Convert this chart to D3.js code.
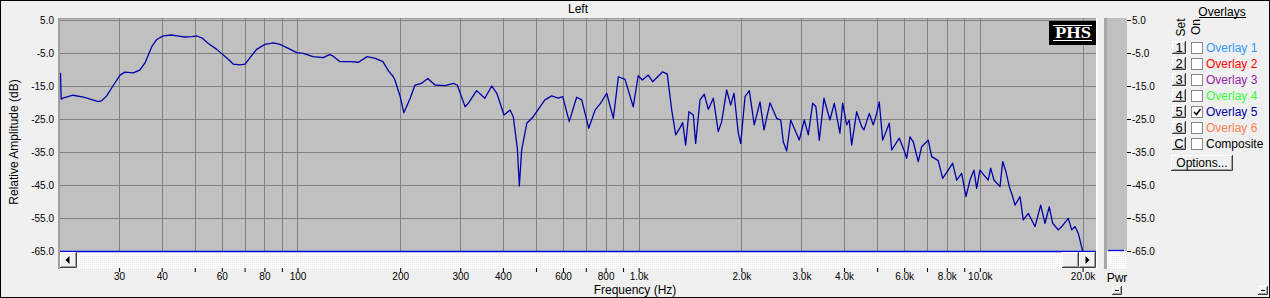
<!DOCTYPE html>
<html>
<head>
<meta charset="utf-8">
<script src="https://cdn.jsdelivr.net/npm/d3@7"></script>
<style>
  body { margin: 0; background: #f0f0f0; }
  svg { display: block; font-family: "Liberation Sans", Arial, sans-serif; font-size: 12px; }
</style>
</head>
<body>
<svg id="chart" width="1270" height="298"></svg>
<script>
// response curve (Hz / dB)
const freqHz = [20.2, 20.3, 20.5, 22.0, 23.6, 24.7, 26.1, 26.7, 27.6, 28.9, 30.2, 31.2, 33.0, 34.5, 35.7, 37.4, 38.7,
  40.4, 42.8, 44.3, 46.8, 49.0, 50.7, 52.4, 54.8, 58.0, 60.6, 62.7, 64.9, 67.9, 70.2, 72.6, 75.9, 80.3, 85.0, 88.9,
  94.0, 99.5, 104, 111, 119, 124, 127, 133, 143, 151, 160, 169, 178, 185, 191, 193, 200, 205, 214, 221, 231, 241,
  253, 271, 286, 294, 310, 317, 335, 354, 371, 384, 403, 420, 429, 441, 447, 454, 470, 491, 531, 556, 581, 599,
  626, 658, 681, 714, 745, 774, 806, 843, 872, 912, 964, 997, 1025, 1067, 1099, 1176, 1213, 1250, 1284, 1321,
  1346, 1373, 1404, 1446, 1469, 1513, 1557, 1600, 1655, 1711, 1751, 1811, 1861, 1903, 1959, 1991, 2050, 2110,
  2182, 2268, 2330, 2426, 2538, 2608, 2654, 2716, 2790, 2872, 2956, 3058, 3142, 3236, 3308, 3384, 3492, 3636,
  3744, 3890, 3962, 4070, 4142, 4210, 4354, 4504, 4574, 4742, 4872, 4984, 5072, 5190, 5428, 5516, 5806, 5994,
  6104, 6240, 6380, 6600, 6752, 7060, 7224, 7552, 7780, 8080, 8324, 8552, 8846, 9108, 9354, 9610, 9786, 10006,
  10280, 10584, 10756, 11000, 11456, 11666, 11930, 12200, 12480, 12678, 13112, 13408, 13868, 14510, 15078,
  15522, 15978, 16350, 16980, 17376, 18166, 18590, 19006, 19426, 20014];
const levelDb = [-11, -19, -18.7, -17.8, -18.4, -19.0, -19.7, -19.4, -18.0, -14.7, -11.7, -10.8, -11.0, -10.2, -8.1, -3.1, -0.9,
  0.2, 0.45, 0.2, -0.15, -0.05, 0.15, -0.4, -2.1, -3.9, -5.6, -6.9, -8.4, -8.6, -8.4, -6.4, -3.9, -2.4, -1.9, -2.4,
  -3.6, -4.9, -5.1, -6.1, -6.4, -5.5, -5.9, -7.6, -7.6, -7.8, -6.1, -6.6, -7.6, -10.5, -12.2, -13.2, -18.2, -23.1, -18.7, -14.7, -14.2, -12.7,
  -14.7, -14.9, -14.2, -14.7, -21.3, -20.2, -16.4, -18.7, -15.0, -17.2, -23.8, -22.3, -24.3, -33.9, -45.3, -34.4, -26.3, -24.3, -19.2, -18.0, -18.7, -18.2,
  -25.8, -18.4, -19.2, -27.8, -22.3, -20.2, -17.2, -24.8, -12.2, -13.0, -21.3, -11.9, -13.2, -11.7, -13.7, -10.7, -11.4, -22.3, -29.8, -27.7,
  -26.1, -32.9, -22.8, -23.8, -32.4, -19.2, -17.5, -22.1, -18.7, -28.8, -25.8, -16.2, -20.8, -17.2, -29.3, -32.4, -18.2, -16.4,
  -26.8, -19.8, -28.3, -20.1, -24.8, -25.3, -31.9, -34.7, -25.3, -28.3, -31.4, -25.3, -29.8, -20.2, -21.3, -31.4, -18.7, -25.3,
  -20.2, -29.3, -20.2, -26.8, -25.3, -32.9, -22.8, -27.3, -28.3, -23.3, -26.8, -23.3, -19.8, -31.4, -26.3, -34.4, -30.8, -34.4,
  -36.9, -30.4, -31.9, -37.9, -33.4, -31.4, -36.4, -37.6, -43.0, -40.5, -38.4, -43.5, -41.5, -48.5, -43.5, -40.5, -46.0, -40.5,
  -42.0, -43.5, -39.9, -43.5, -45.5, -37.9, -41.0, -45.5, -48.5, -51.1, -48.5, -55.6, -53.6, -57.6, -51.1,
  -56.6, -51.6, -56.6, -58.6, -57.6, -55.1, -58.6, -57.6, -59.6, -65];

const gridFreqs = [30, 40, 50, 60, 70, 80, 90, 100, 200, 300, 400, 500, 600, 700, 800, 900,
  1000, 2000, 3000, 4000, 5000, 6000, 7000, 8000, 9000, 10000, 20000];
const labelFreqs = [30, 40, 60, 80, 100, 200, 300, 400, 600, 800, 1000, 2000, 3000, 4000, 6000, 8000, 10000, 20000];
const dbTicks = [5, -5, -15, -25, -35, -45, -55, -65];

const overlayNames = ["Overlay 1", "Overlay 2", "Overlay 3", "Overlay 4", "Overlay 5", "Overlay 6", "Composite"];
const overlaySet = ["1", "2", "3", "4", "5", "6", "C"];
const overlayColors = ["#3399ff", "#ff0000", "#9922aa", "#33ff33", "#0000a0", "#ff8050", "#000000"];
const overlayOn = [false, false, false, false, true, false, false];

const svg = d3.select("#chart");
const pLeft = 59, pRight = 1096, pTop = 18, pBottom = 251;

const x = d3.scaleLog().domain([20, 21900]).range([pLeft, pRight]);
const y = d3.scaleLinear().domain([-65, 5]).range([251, 20]);

// outer frame
svg.append("rect").attr("x", 0.5).attr("y", 0.5).attr("width", 1269).attr("height", 297)
  .attr("fill", "#f0f0f0").attr("stroke", "#000");

svg.append("text").attr("x", 578).attr("y", 13).attr("text-anchor", "middle").text("Left");

// plot background
svg.append("rect").attr("x", pLeft).attr("y", pTop).attr("width", pRight - pLeft).attr("height", pBottom - pTop)
  .attr("fill", "#c0c0c0");
svg.append("rect").attr("x", pLeft).attr("y", pTop).attr("width", pRight - pLeft).attr("height", 1).attr("fill", "#a0a0a0");

// grid
const grid = svg.append("g").attr("stroke", "#808080").attr("stroke-width", 1);
grid.selectAll("line.v").data(gridFreqs).join("line")
  .attr("x1", d => Math.round(x(d)) + 0.5).attr("x2", d => Math.round(x(d)) + 0.5)
  .attr("y1", pTop).attr("y2", pBottom);
grid.selectAll("line.h").data(dbTicks.slice(0, -1)).join("line")
  .attr("x1", pLeft).attr("x2", pRight)
  .attr("y1", d => Math.round(y(d)) + 0.5).attr("y2", d => Math.round(y(d)) + 0.5);

// PHS badge
const phs = svg.append("g");
phs.append("rect").attr("x", 1049).attr("y", 21).attr("width", 47).attr("height", 24).attr("fill", "#000");
phs.append("rect").attr("x", 1053).attr("y", 25).attr("width", 39).attr("height", 1).attr("fill", "#fff");
phs.append("rect").attr("x", 1053).attr("y", 40).attr("width", 39).attr("height", 1).attr("fill", "#fff");
phs.append("text").attr("x", 1055).attr("y", 38).attr("fill", "#fff")
  .attr("font-family", "'Liberation Serif', 'Times New Roman', serif").attr("font-weight", "bold")
  .attr("font-size", 16).attr("textLength", 36).attr("lengthAdjust", "spacingAndGlyphs").text("PHS");

// clip + curve
svg.append("clipPath").attr("id", "plotclip").append("rect")
  .attr("x", pLeft).attr("y", pTop).attr("width", pRight - pLeft).attr("height", pBottom - pTop + 1);

const pts = freqHz.map((f, i) => [f, Math.max(-65, levelDb[i])]);
const line = d3.line().x(d => x(d[0])).y(d => y(d[1]));
svg.append("path").attr("clip-path", "url(#plotclip)").datum(pts).attr("d", line)
  .attr("fill", "none").attr("stroke", "#0000aa").attr("stroke-width", 1.3).attr("stroke-linejoin", "round");

// left border
svg.append("rect").attr("x", 58).attr("y", pTop).attr("width", 2).attr("height", 269 - pTop).attr("fill", "#a0a0a0");
svg.append("rect").attr("x", 1096).attr("y", pTop).attr("width", 1.5).attr("height", 269 - pTop).attr("fill", "#ffffff");

// scrollbar
const defs = svg.append("defs");
const pat = defs.append("pattern").attr("id", "dots").attr("width", 2).attr("height", 2).attr("patternUnits", "userSpaceOnUse");
pat.append("rect").attr("width", 2).attr("height", 2).attr("fill", "#fcfcfc");
pat.append("rect").attr("width", 1).attr("height", 1).attr("fill", "#ececec");
svg.append("rect").attr("x", 60).attr("y", 252).attr("width", 1036).attr("height", 17).attr("fill", "url(#dots)");
svg.append("line").attr("x1", 60).attr("x2", 1096).attr("y1", 251.5).attr("y2", 251.5)
  .attr("stroke", "#0000dd").attr("stroke-width", 1.3);

function bevel(g, bx, by, w, h) {
  g.append("rect").attr("x", bx).attr("y", by).attr("width", w).attr("height", h).attr("fill", "#f0f0f0");
  g.append("path").attr("d", `M${bx + 0.5},${by + h - 1}V${by + 0.5}H${bx + w - 1}`).attr("fill", "none").attr("stroke", "#ffffff");
  g.append("path").attr("d", `M${bx},${by + h - 0.5}H${bx + w - 0.5}V${by}`).attr("fill", "none").attr("stroke", "#404040");
  g.append("path").attr("d", `M${bx + 1},${by + h - 1.5}H${bx + w - 1.5}V${by + 1}`).attr("fill", "none").attr("stroke", "#a0a0a0");
}
const sb = svg.append("g");
bevel(sb, 60, 252, 17, 16);
sb.append("path").attr("d", "M65.5,260 L69.5,256 L69.5,264 Z").attr("fill", "#000");
bevel(sb, 1062, 252, 17, 16);
bevel(sb, 1079, 252, 17, 16);
sb.append("path").attr("d", "M1089.5,260 L1085.5,256 L1085.5,264 Z").attr("fill", "#000");

// axes
const xAxis = d3.axisBottom(x).tickValues(gridFreqs).tickSize(4).tickPadding(1)
  .tickFormat(d => labelFreqs.includes(d) ? (d < 1000 ? d : (d / 1000).toFixed(1) + "k") : "");
const gx = svg.append("g").attr("transform", "translate(0,268)").call(xAxis);
gx.select(".domain").remove();
gx.selectAll("text").attr("font-family", null).attr("font-size", null).attr("fill", "#000");
gx.selectAll("line").attr("stroke", "#000");

const yAxis = d3.axisLeft(y).tickValues(dbTicks).tickSize(0).tickPadding(5).tickFormat(d => d.toFixed(1));
const gy = svg.append("g").attr("transform", `translate(${pLeft},0)`).call(yAxis);
gy.select(".domain").remove();
gy.selectAll("text").attr("font-family", null).attr("font-size", null).attr("fill", "#000");

svg.append("text").attr("transform", "translate(18,142) rotate(-90)").attr("text-anchor", "middle")
  .text("Relative Amplitude (dB)");
svg.append("text").attr("x", 635).attr("y", 294).attr("text-anchor", "middle").text("Frequency (Hz)");

// power bar
svg.append("rect").attr("x", 1104).attr("y", pTop).attr("width", 3).attr("height", 269 - pTop).attr("fill", "#a8a8a8");
svg.append("rect").attr("x", 1107).attr("y", pTop).attr("width", 20).attr("height", pBottom - pTop).attr("fill", "#c0c0c0");
svg.append("rect").attr("x", 1107).attr("y", pBottom).attr("width", 20).attr("height", 18).attr("fill", "url(#dots)");
svg.append("line").attr("x1", 1108).attr("x2", 1124).attr("y1", y(-65) - 0.5).attr("y2", y(-65) - 0.5)
  .attr("stroke", "#0000dd").attr("stroke-width", 1.3);

const yAxisR = d3.axisRight(y).tickValues(dbTicks).tickSize(4).tickPadding(1).tickFormat(d => d.toFixed(1));
const gr = svg.append("g").attr("transform", "translate(1127,0)").call(yAxisR);
gr.select(".domain").remove();
gr.selectAll("text").attr("font-family", null).attr("font-size", null).attr("fill", "#000");
gr.selectAll("line").attr("stroke", "#000");
svg.append("text").attr("x", 1117).attr("y", 282).attr("text-anchor", "middle").text("Pwr");

// small minus buttons
[[1112, 286], [1258, 286]].forEach(([bx, by]) => {
  bevel(svg, bx, by, 10, 9);
  svg.append("rect").attr("x", bx + 3).attr("y", by + 4).attr("width", 4).attr("height", 1).attr("fill", "#000");
});

// overlays panel
const ov = svg.append("g");
ov.append("text").attr("x", 1222).attr("y", 16).attr("text-anchor", "middle").text("Overlays");
ov.append("rect").attr("x", 1199).attr("y", 17).attr("width", 47).attr("height", 1).attr("fill", "#000");
ov.append("text").attr("transform", "translate(1185,36.5) rotate(-90)").text("Set");
ov.append("text").attr("transform", "translate(1200,35) rotate(-90)").text("On");

overlayNames.forEach((name, i) => {
  const ry = 41 + i * 16;
  bevel(ov, 1172, ry, 14, 13);
  ov.append("text").attr("x", 1179).attr("y", ry + 11).attr("text-anchor", "middle").attr("font-size", 13).text(overlaySet[i]);
  ov.append("rect").attr("x", 1191.5).attr("y", ry + 1.5).attr("width", 11).attr("height", 11)
    .attr("fill", "#fff").attr("stroke", "#8a8a8a");
  if (overlayOn[i]) {
    ov.append("path").attr("d", `M1194,${ry + 7} L1196.5,${ry + 9.5} L1200.5,${ry + 4}`)
      .attr("fill", "none").attr("stroke", "#000").attr("stroke-width", 1.6);
  }
  ov.append("text").attr("x", 1206).attr("y", ry + 11).attr("fill", overlayColors[i]).text(name);
});

bevel(ov, 1171, 155, 62, 16);
ov.append("text").attr("x", 1202).attr("y", 167).attr("text-anchor", "middle").text("Options...");
</script>
</body>
</html>
